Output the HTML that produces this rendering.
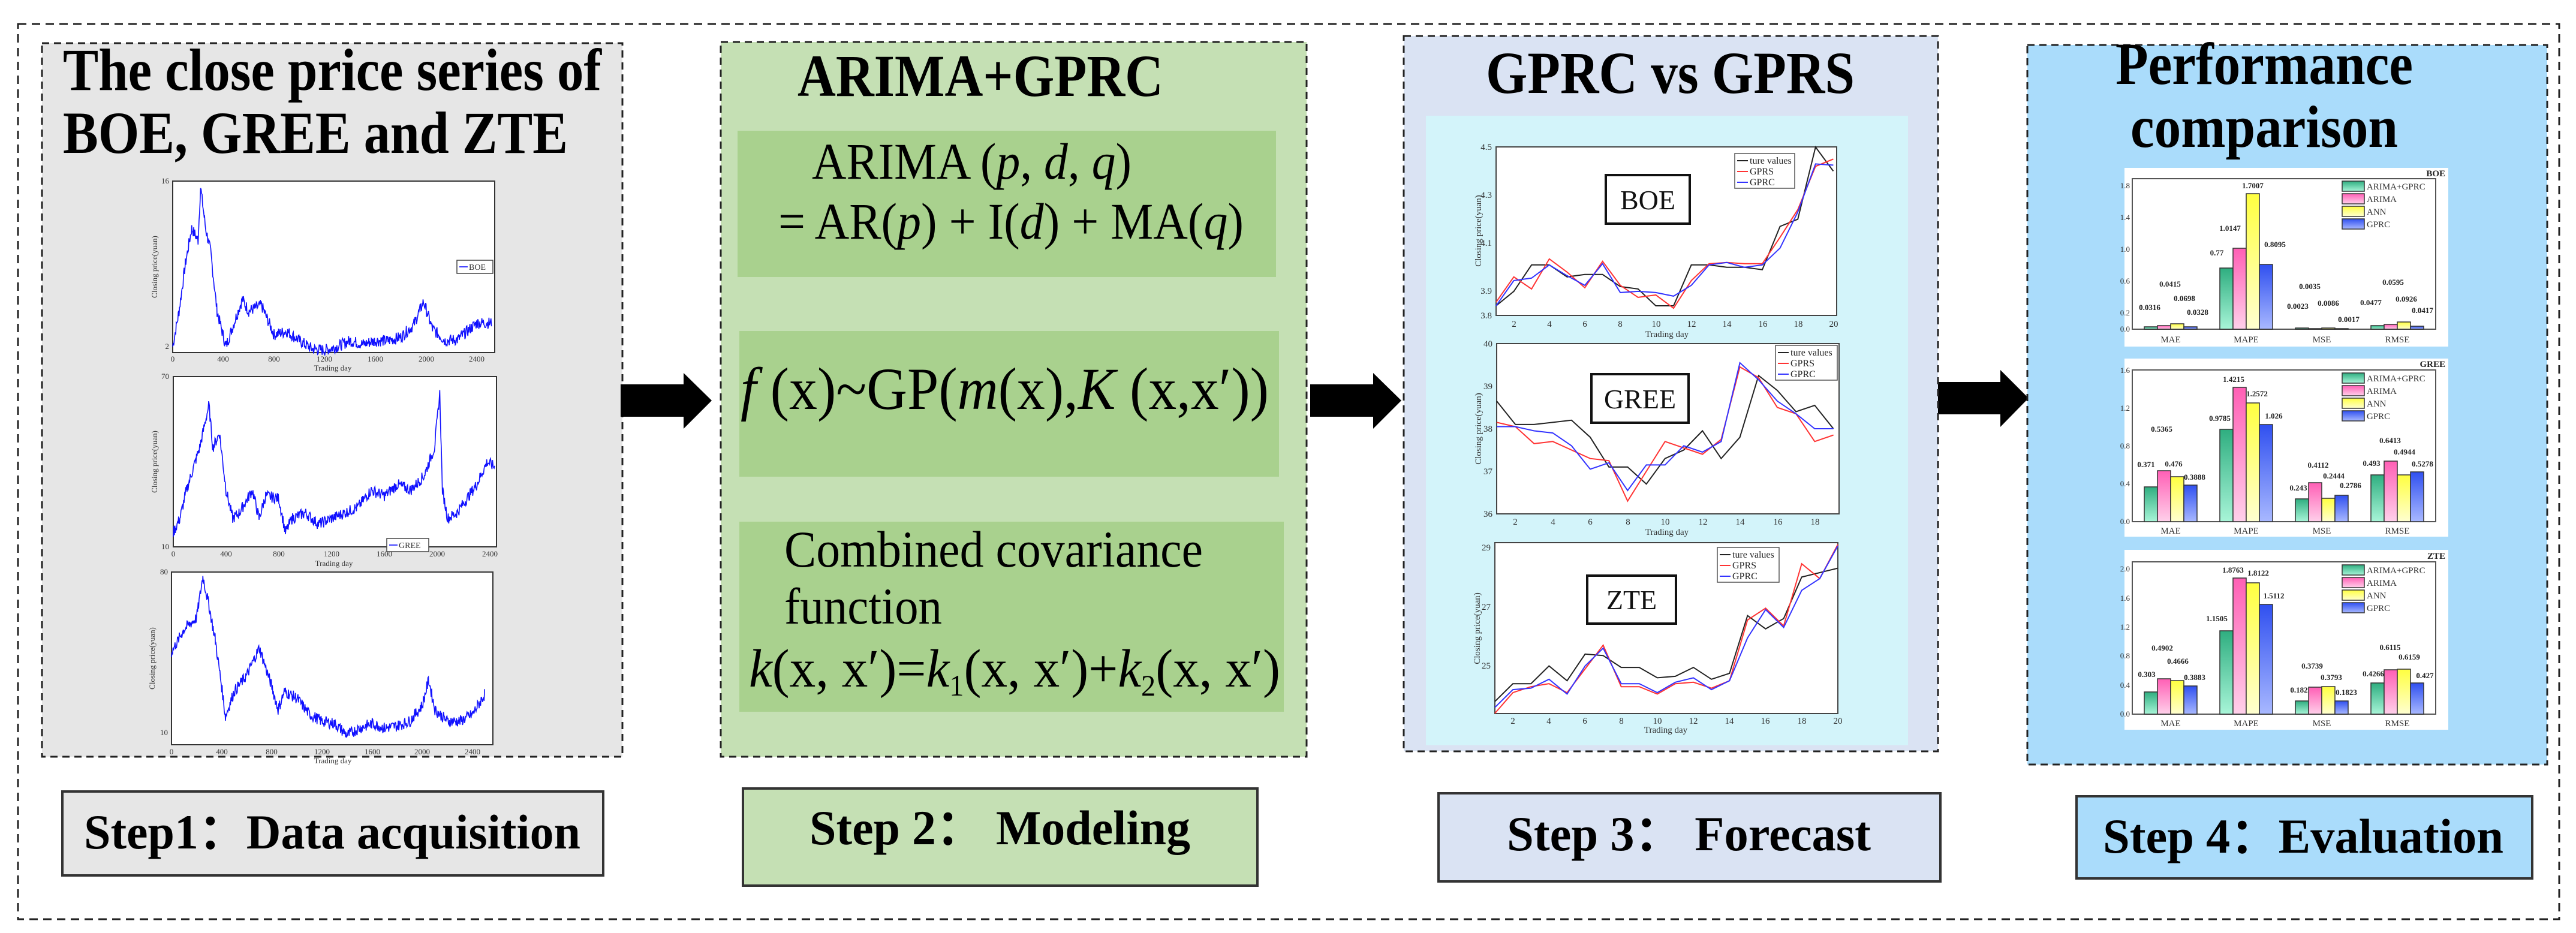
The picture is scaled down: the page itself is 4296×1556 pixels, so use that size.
<!DOCTYPE html>
<html><head><meta charset="utf-8"><style>
html,body{margin:0;padding:0;background:#fff;}
svg{display:block;}
.t{font-family:"Liberation Serif",serif;}
</style></head><body>
<svg id="s" xmlns="http://www.w3.org/2000/svg" width="4296" height="1556" viewBox="0 0 4296 1556" class="t">
<defs>
<linearGradient id="gG" x1="0" y1="0" x2="0" y2="1"><stop offset="0" stop-color="#2fae80"/><stop offset="1" stop-color="#a8f5d8"/></linearGradient>
<linearGradient id="gP" x1="0" y1="0" x2="0" y2="1"><stop offset="0" stop-color="#ff5fb5"/><stop offset="1" stop-color="#ffd0ea"/></linearGradient>
<linearGradient id="gY" x1="0" y1="0" x2="0" y2="1"><stop offset="0" stop-color="#ffff40"/><stop offset="1" stop-color="#ffffd0"/></linearGradient>
<linearGradient id="gB" x1="0" y1="0" x2="0" y2="1"><stop offset="0" stop-color="#3050f0"/><stop offset="1" stop-color="#a8b8ff"/></linearGradient>
</defs>
<!-- outer -->
<rect x="30" y="40" width="4238" height="1493" fill="#fff" stroke="#222" stroke-width="3" stroke-dasharray="14 9"/>

<!-- Panel 1 -->
<rect x="70" y="72" width="968" height="1190" fill="#e6e6e6" stroke="#222" stroke-width="3" stroke-dasharray="12 8"/>
<text x="105" y="150" font-size="100" font-weight="bold" textLength="898" lengthAdjust="spacingAndGlyphs">The close price series of</text>
<text x="105" y="255" font-size="100" font-weight="bold" textLength="842" lengthAdjust="spacingAndGlyphs">BOE, GREE and ZTE</text>
<g fill="#fff" stroke="#333" stroke-width="2">
<rect x="288" y="302" width="537" height="286"/>
<rect x="289" y="628" width="539" height="284"/>
<rect x="286" y="954" width="536" height="288"/>
</g>
<g font-size="13" fill="#333">
<text x="282" y="306" text-anchor="end">16</text><text x="282" y="582" text-anchor="end">2</text>
<text x="282" y="632" text-anchor="end">70</text><text x="282" y="916" text-anchor="end">10</text>
<text x="280" y="958" text-anchor="end">80</text><text x="280" y="1226" text-anchor="end">10</text>
<text x="288" y="603" text-anchor="middle">0</text><text x="372" y="603" text-anchor="middle">400</text><text x="457" y="603" text-anchor="middle">800</text><text x="541" y="603" text-anchor="middle">1200</text><text x="626" y="603" text-anchor="middle">1600</text><text x="711" y="603" text-anchor="middle">2000</text><text x="795" y="603" text-anchor="middle">2400</text>
<text x="555" y="618" text-anchor="middle">Trading day</text>
<text x="289" y="928" text-anchor="middle">0</text><text x="377" y="928" text-anchor="middle">400</text><text x="465" y="928" text-anchor="middle">800</text><text x="553" y="928" text-anchor="middle">1200</text><text x="641" y="928" text-anchor="middle">1600</text><text x="729" y="928" text-anchor="middle">2000</text><text x="817" y="928" text-anchor="middle">2400</text>
<text x="557" y="944" text-anchor="middle">Trading day</text>
<text x="286" y="1258" text-anchor="middle">0</text><text x="370" y="1258" text-anchor="middle">400</text><text x="453" y="1258" text-anchor="middle">800</text><text x="537" y="1258" text-anchor="middle">1200</text><text x="621" y="1258" text-anchor="middle">1600</text><text x="704" y="1258" text-anchor="middle">2000</text><text x="788" y="1258" text-anchor="middle">2400</text>
<text x="555" y="1273" text-anchor="middle">Trading day</text>
<text transform="translate(262,445) rotate(-90)" text-anchor="middle">Closing price(yuan)</text>
<text transform="translate(262,770) rotate(-90)" text-anchor="middle">Closing price(yuan)</text>
<text transform="translate(258,1098) rotate(-90)" text-anchor="middle">Closing price(yuan)</text>
</g>
<g font-size="14" fill="#333" stroke-width="1.5">
<rect x="762" y="434" width="60" height="22" fill="#fff" stroke="#444"/><line x1="766" y1="445" x2="780" y2="445" stroke="#00f"/><text x="782" y="450">BOE</text>
<rect x="645" y="908" width="70" height="22" fill="#fff" stroke="#444" transform="translate(0,-10)"/><line x1="649" y1="909" x2="663" y2="909" stroke="#00f"/><text x="665" y="914">GREE</text>
<rect x="680" y="1358" width="55" height="22" fill="#fff" stroke="#444" transform="translate(0,-22)"/><line x1="684" y1="1347" x2="698" y2="1347" stroke="#00f"/><text x="700" y="1352">ZTE</text>
</g>
<g id="p1lines" fill="none" stroke="#1010ff" stroke-width="1.6"></g>
<rect x="104" y="1320" width="902" height="140" fill="#e6e6e6" stroke="#333" stroke-width="4"/>
<text x="140" y="1415" font-size="82" font-weight="bold" textLength="828" lengthAdjust="spacingAndGlyphs">Step1：Data acquisition</text>

<!-- arrows -->
<g fill="#000">
<polygon points="1035,641 1140,641 1140,622 1187,668 1140,715 1140,695 1035,695"/>
<polygon points="2185,641 2290,641 2290,622 2337,668 2290,715 2290,695 2185,695"/>
<polygon points="3232,637 3336,637 3336,617 3383,664 3336,712 3336,691 3232,691"/>
</g>

<!-- Panel 2 -->
<rect x="1202" y="70" width="977" height="1192" fill="#c5e0b4" stroke="#222" stroke-width="3" stroke-dasharray="12 8"/>
<text x="1330" y="160" font-size="100" font-weight="bold" textLength="610" lengthAdjust="spacingAndGlyphs">ARIMA+GPRC</text>
<rect x="1230" y="218" width="898" height="244" fill="#a9d18e"/>
<rect x="1233" y="552" width="900" height="243" fill="#a9d18e"/>
<rect x="1233" y="870" width="908" height="317" fill="#a9d18e"/>
<text x="1354" y="298" font-size="86" textLength="533" lengthAdjust="spacingAndGlyphs">ARIMA (<tspan font-style="italic">p</tspan>, <tspan font-style="italic">d</tspan>, <tspan font-style="italic">q</tspan>)</text>
<text x="1298" y="398" font-size="86" textLength="776" lengthAdjust="spacingAndGlyphs">= AR(<tspan font-style="italic">p</tspan>) + I(<tspan font-style="italic">d</tspan>) + MA(<tspan font-style="italic">q</tspan>)</text>
<text x="1235" y="682" font-size="100" textLength="881" lengthAdjust="spacingAndGlyphs"><tspan font-style="italic">f</tspan> (x)~GP(<tspan font-style="italic">m</tspan>(x),<tspan font-style="italic">K</tspan> (x,x′))</text>
<text x="1308" y="945" font-size="86" textLength="698" lengthAdjust="spacingAndGlyphs">Combined covariance</text>
<text x="1308" y="1040" font-size="86" textLength="263" lengthAdjust="spacingAndGlyphs">function</text>
<text x="1249" y="1145" font-size="90" textLength="886" lengthAdjust="spacingAndGlyphs"><tspan font-style="italic">k</tspan>(x, x′)=<tspan font-style="italic">k</tspan><tspan font-size="50" dy="15">1</tspan><tspan dy="-15">(x, x′)+</tspan><tspan font-style="italic">k</tspan><tspan font-size="50" dy="15">2</tspan><tspan dy="-15">(x, x′)</tspan></text>
<rect x="1239" y="1315" width="858" height="162" fill="#c5e0b4" stroke="#333" stroke-width="4"/>
<text x="1350" y="1408" font-size="82" font-weight="bold" textLength="635" lengthAdjust="spacingAndGlyphs">Step 2：  Modeling</text>

<!-- Panel 3 -->
<rect x="2341" y="60" width="891" height="1193" fill="#dae3f3" stroke="#222" stroke-width="3" stroke-dasharray="12 8"/>
<text x="2478" y="155" font-size="100" font-weight="bold" textLength="615" lengthAdjust="spacingAndGlyphs">GPRC vs GPRS</text>
<rect x="2378" y="193" width="804" height="1050" fill="#d3f4fa"/>
<g fill="#fff" stroke="#444" stroke-width="2">
<rect x="2495" y="245" width="568" height="281"/>
<rect x="2496" y="573" width="571" height="284"/>
<rect x="2493" y="905" width="572" height="285"/>
</g>
<g font-size="15" fill="#333">
<text x="2488" y="250" text-anchor="end">4.5</text><text x="2488" y="330" text-anchor="end">4.3</text><text x="2488" y="410" text-anchor="end">4.1</text><text x="2488" y="490" text-anchor="end">3.9</text><text x="2488" y="531" text-anchor="end">3.8</text>
<text x="2489" y="578" text-anchor="end">40</text><text x="2489" y="649" text-anchor="end">39</text><text x="2489" y="720" text-anchor="end">38</text><text x="2489" y="791" text-anchor="end">37</text><text x="2489" y="862" text-anchor="end">36</text>
<text x="2486" y="918" text-anchor="end">29</text><text x="2486" y="1017" text-anchor="end">27</text><text x="2486" y="1115" text-anchor="end">25</text>
<text x="2525" y="545" text-anchor="middle">2</text><text x="2584" y="545" text-anchor="middle">4</text><text x="2643" y="545" text-anchor="middle">6</text><text x="2702" y="545" text-anchor="middle">8</text><text x="2762" y="545" text-anchor="middle">10</text><text x="2821" y="545" text-anchor="middle">12</text><text x="2880" y="545" text-anchor="middle">14</text><text x="2940" y="545" text-anchor="middle">16</text><text x="2999" y="545" text-anchor="middle">18</text><text x="3058" y="545" text-anchor="middle">20</text>
<text x="2780" y="562" text-anchor="middle">Trading day</text>
<text x="2527" y="875" text-anchor="middle">2</text><text x="2590" y="875" text-anchor="middle">4</text><text x="2652" y="875" text-anchor="middle">6</text><text x="2715" y="875" text-anchor="middle">8</text><text x="2777" y="875" text-anchor="middle">10</text><text x="2840" y="875" text-anchor="middle">12</text><text x="2902" y="875" text-anchor="middle">14</text><text x="2965" y="875" text-anchor="middle">16</text><text x="3027" y="875" text-anchor="middle">18</text>
<text x="2780" y="892" text-anchor="middle">Trading day</text>
<text x="2523" y="1207" text-anchor="middle">2</text><text x="2583" y="1207" text-anchor="middle">4</text><text x="2643" y="1207" text-anchor="middle">6</text><text x="2704" y="1207" text-anchor="middle">8</text><text x="2764" y="1207" text-anchor="middle">10</text><text x="2824" y="1207" text-anchor="middle">12</text><text x="2884" y="1207" text-anchor="middle">14</text><text x="2944" y="1207" text-anchor="middle">16</text><text x="3005" y="1207" text-anchor="middle">18</text><text x="3065" y="1207" text-anchor="middle">20</text>
<text x="2778" y="1222" text-anchor="middle">Trading day</text>
<text transform="translate(2470,385) rotate(-90)" text-anchor="middle">Closing price(yuan)</text>
<text transform="translate(2470,715) rotate(-90)" text-anchor="middle">Closing price(yuan)</text>
<text transform="translate(2468,1048) rotate(-90)" text-anchor="middle">Closing price(yuan)</text>
</g>
<g id="p3lines" fill="none" stroke-width="2"></g>
<g font-size="16" fill="#222">
<rect x="2893" y="256" width="100" height="58" fill="#fff" stroke="#555" stroke-width="1.5"/>
<line x1="2897" y1="268" x2="2915" y2="268" stroke="#222" stroke-width="2"/><text x="2918" y="273">ture values</text>
<line x1="2897" y1="286" x2="2915" y2="286" stroke="#f33" stroke-width="2"/><text x="2918" y="291">GPRS</text>
<line x1="2897" y1="304" x2="2915" y2="304" stroke="#33f" stroke-width="2"/><text x="2918" y="309">GPRC</text>
<rect x="2961" y="576" width="103" height="58" fill="#fff" stroke="#555" stroke-width="1.5"/>
<line x1="2965" y1="588" x2="2983" y2="588" stroke="#222" stroke-width="2"/><text x="2986" y="593">ture values</text>
<line x1="2965" y1="606" x2="2983" y2="606" stroke="#f33" stroke-width="2"/><text x="2986" y="611">GPRS</text>
<line x1="2965" y1="624" x2="2983" y2="624" stroke="#33f" stroke-width="2"/><text x="2986" y="629">GPRC</text>
<rect x="2864" y="913" width="103" height="58" fill="#fff" stroke="#555" stroke-width="1.5"/>
<line x1="2868" y1="925" x2="2886" y2="925" stroke="#222" stroke-width="2"/><text x="2889" y="930">ture values</text>
<line x1="2868" y1="943" x2="2886" y2="943" stroke="#f33" stroke-width="2"/><text x="2889" y="948">GPRS</text>
<line x1="2868" y1="961" x2="2886" y2="961" stroke="#33f" stroke-width="2"/><text x="2889" y="966">GPRC</text>
</g>
<g fill="#fff" stroke="#111" stroke-width="4">
<rect x="2678" y="292" width="140" height="81"/>
<rect x="2654" y="624" width="162" height="81"/>
<rect x="2647" y="960" width="148" height="80"/>
</g>
<g font-size="46" text-anchor="middle" fill="#111">
<text x="2748" y="349">BOE</text><text x="2735" y="681">GREE</text><text x="2721" y="1016">ZTE</text>
</g>
<rect x="2399" y="1323" width="837" height="147" fill="#dae3f3" stroke="#333" stroke-width="4"/>
<text x="2513" y="1418" font-size="82" font-weight="bold" textLength="607" lengthAdjust="spacingAndGlyphs">Step 3：  Forecast</text>

<!-- Panel 4 -->
<rect x="3381" y="75" width="867" height="1200" fill="#aadcfb" stroke="#222" stroke-width="3" stroke-dasharray="12 8"/>
<text x="3528" y="140" font-size="100" font-weight="bold" textLength="496" lengthAdjust="spacingAndGlyphs">Performance</text>
<text x="3553" y="245" font-size="100" font-weight="bold" textLength="446" lengthAdjust="spacingAndGlyphs">comparison</text>
<g fill="#fff"><rect x="3543" y="280" width="540" height="298"/><rect x="3543" y="598" width="540" height="297"/><rect x="3543" y="917" width="540" height="300"/></g>
<g fill="none" stroke="#555" stroke-width="2"><rect x="3556" y="298" width="506" height="251"/><rect x="3556" y="617" width="506" height="253"/><rect x="3556" y="937" width="506" height="254"/></g>
<g font-size="15" font-weight="bold" fill="#222" text-anchor="end">
<text x="4078" y="294">BOE</text><text x="4078" y="612">GREE</text><text x="4078" y="932">ZTE</text>
</g>
<g font-size="15" fill="#333" text-anchor="middle">
<text x="3620" y="571">MAE</text><text x="3746" y="571">MAPE</text><text x="3872" y="571">MSE</text><text x="3998" y="571">RMSE</text>
<text x="3620" y="890">MAE</text><text x="3746" y="890">MAPE</text><text x="3872" y="890">MSE</text><text x="3998" y="890">RMSE</text>
<text x="3620" y="1211">MAE</text><text x="3746" y="1211">MAPE</text><text x="3872" y="1211">MSE</text><text x="3998" y="1211">RMSE</text>
</g>
<g font-size="13" fill="#333" text-anchor="end">
<text x="3552" y="314">1.8</text><text x="3552" y="367">1.4</text><text x="3552" y="420">1.0</text><text x="3552" y="473">0.6</text><text x="3552" y="526">0.2</text><text x="3552" y="553">0.0</text>
<text x="3552" y="622">1.6</text><text x="3552" y="685">1.2</text><text x="3552" y="748">0.8</text><text x="3552" y="811">0.4</text><text x="3552" y="874">0.0</text>
<text x="3552" y="953">2.0</text><text x="3552" y="1002">1.6</text><text x="3552" y="1050">1.2</text><text x="3552" y="1098">0.8</text><text x="3552" y="1147">0.4</text><text x="3552" y="1195">0.0</text>
</g>
<!-- bars BOE base 549 -->
<g stroke="#333" stroke-width="1.5">
<rect x="3576" y="545" width="22" height="4" fill="url(#gG)"/><rect x="3598" y="543" width="22" height="6" fill="url(#gP)"/><rect x="3620" y="540" width="22" height="9" fill="url(#gY)"/><rect x="3642" y="545" width="22" height="4" fill="url(#gB)"/>
<rect x="3702" y="447" width="22" height="102" fill="url(#gG)"/><rect x="3724" y="414" width="22" height="135" fill="url(#gP)"/><rect x="3746" y="323" width="22" height="226" fill="url(#gY)"/><rect x="3768" y="441" width="22" height="108" fill="url(#gB)"/>
<rect x="3828" y="547" width="22" height="2" fill="url(#gG)"/><rect x="3850" y="548" width="22" height="1" fill="url(#gP)"/><rect x="3872" y="547" width="22" height="2" fill="url(#gY)"/><rect x="3894" y="548" width="22" height="1" fill="url(#gB)"/>
<rect x="3954" y="543" width="22" height="6" fill="url(#gG)"/><rect x="3976" y="541" width="22" height="8" fill="url(#gP)"/><rect x="3998" y="537" width="22" height="12" fill="url(#gY)"/><rect x="4020" y="544" width="22" height="5" fill="url(#gB)"/>
<!-- GREE base 870 -->
<rect x="3576" y="812" width="22" height="58" fill="url(#gG)"/><rect x="3598" y="785" width="22" height="85" fill="url(#gP)"/><rect x="3620" y="795" width="22" height="75" fill="url(#gY)"/><rect x="3642" y="809" width="22" height="61" fill="url(#gB)"/>
<rect x="3702" y="716" width="22" height="154" fill="url(#gG)"/><rect x="3724" y="646" width="22" height="224" fill="url(#gP)"/><rect x="3746" y="672" width="22" height="198" fill="url(#gY)"/><rect x="3768" y="708" width="22" height="162" fill="url(#gB)"/>
<rect x="3828" y="832" width="22" height="38" fill="url(#gG)"/><rect x="3850" y="805" width="22" height="65" fill="url(#gP)"/><rect x="3872" y="831" width="22" height="39" fill="url(#gY)"/><rect x="3894" y="826" width="22" height="44" fill="url(#gB)"/>
<rect x="3954" y="792" width="22" height="78" fill="url(#gG)"/><rect x="3976" y="769" width="22" height="101" fill="url(#gP)"/><rect x="3998" y="792" width="22" height="78" fill="url(#gY)"/><rect x="4020" y="787" width="22" height="83" fill="url(#gB)"/>
<!-- ZTE base 1191 -->
<rect x="3576" y="1154" width="22" height="37" fill="url(#gG)"/><rect x="3598" y="1132" width="22" height="59" fill="url(#gP)"/><rect x="3620" y="1135" width="22" height="56" fill="url(#gY)"/><rect x="3642" y="1144" width="22" height="47" fill="url(#gB)"/>
<rect x="3702" y="1052" width="22" height="139" fill="url(#gG)"/><rect x="3724" y="964" width="22" height="227" fill="url(#gP)"/><rect x="3746" y="972" width="22" height="219" fill="url(#gY)"/><rect x="3768" y="1008" width="22" height="183" fill="url(#gB)"/>
<rect x="3828" y="1169" width="22" height="22" fill="url(#gG)"/><rect x="3850" y="1146" width="22" height="45" fill="url(#gP)"/><rect x="3872" y="1145" width="22" height="46" fill="url(#gY)"/><rect x="3894" y="1169" width="22" height="22" fill="url(#gB)"/>
<rect x="3954" y="1139" width="22" height="52" fill="url(#gG)"/><rect x="3976" y="1117" width="22" height="74" fill="url(#gP)"/><rect x="3998" y="1116" width="22" height="75" fill="url(#gY)"/><rect x="4020" y="1139" width="22" height="52" fill="url(#gB)"/>
</g>
<!-- legends -->
<g font-size="15" fill="#333" stroke-width="1.5">
<rect x="3906" y="302" width="37" height="17" fill="url(#gG)" stroke="#333"/><text x="3947" y="316">ARIMA+GPRC</text>
<rect x="3906" y="323" width="37" height="17" fill="url(#gP)" stroke="#333"/><text x="3947" y="337">ARIMA</text>
<rect x="3906" y="344" width="37" height="17" fill="url(#gY)" stroke="#333"/><text x="3947" y="358">ANN</text>
<rect x="3906" y="365" width="37" height="17" fill="url(#gB)" stroke="#333"/><text x="3947" y="379">GPRC</text>
<rect x="3906" y="622" width="37" height="17" fill="url(#gG)" stroke="#333"/><text x="3947" y="636">ARIMA+GPRC</text>
<rect x="3906" y="643" width="37" height="17" fill="url(#gP)" stroke="#333"/><text x="3947" y="657">ARIMA</text>
<rect x="3906" y="664" width="37" height="17" fill="url(#gY)" stroke="#333"/><text x="3947" y="678">ANN</text>
<rect x="3906" y="685" width="37" height="17" fill="url(#gB)" stroke="#333"/><text x="3947" y="699">GPRC</text>
<rect x="3906" y="942" width="37" height="17" fill="url(#gG)" stroke="#333"/><text x="3947" y="956">ARIMA+GPRC</text>
<rect x="3906" y="963" width="37" height="17" fill="url(#gP)" stroke="#333"/><text x="3947" y="977">ARIMA</text>
<rect x="3906" y="984" width="37" height="17" fill="url(#gY)" stroke="#333"/><text x="3947" y="998">ANN</text>
<rect x="3906" y="1005" width="37" height="17" fill="url(#gB)" stroke="#333"/><text x="3947" y="1019">GPRC</text>
</g>
<!-- value labels -->
<g font-size="13" font-weight="bold" fill="#222" text-anchor="middle">
<text x="3585" y="517">0.0316</text><text x="3619" y="478">0.0415</text><text x="3643" y="502">0.0698</text><text x="3665" y="525">0.0328</text>
<text x="3697" y="426">0.77</text><text x="3719" y="385">1.0147</text><text x="3757" y="314">1.7007</text><text x="3794" y="412">0.8095</text>
<text x="3832" y="515">0.0023</text><text x="3852" y="482">0.0035</text><text x="3883" y="510">0.0086</text><text x="3917" y="537">0.0017</text>
<text x="3954" y="509">0.0477</text><text x="3991" y="475">0.0595</text><text x="4013" y="503">0.0926</text><text x="4040" y="522">0.0417</text>
<text x="3579" y="779">0.371</text><text x="3605" y="720">0.5365</text><text x="3625" y="778">0.476</text><text x="3660" y="800">0.3888</text>
<text x="3702" y="702">0.9785</text><text x="3725" y="637">1.4215</text><text x="3764" y="661">1.2572</text><text x="3792" y="698">1.026</text>
<text x="3833" y="818">0.243</text><text x="3866" y="780">0.4112</text><text x="3892" y="798">0.2444</text><text x="3920" y="814">0.2786</text>
<text x="3955" y="777">0.493</text><text x="3986" y="739">0.6413</text><text x="4010" y="758">0.4944</text><text x="4040" y="778">0.5278</text>
<text x="3580" y="1129">0.303</text><text x="3606" y="1085">0.4902</text><text x="3632" y="1107">0.4666</text><text x="3660" y="1134">0.3883</text>
<text x="3697" y="1036">1.1505</text><text x="3724" y="955">1.8763</text><text x="3766" y="960">1.8122</text><text x="3792" y="998">1.5112</text>
<text x="3834" y="1155">0.182</text><text x="3856" y="1115">0.3739</text><text x="3888" y="1134">0.3793</text><text x="3913" y="1159">0.1823</text>
<text x="3958" y="1128">0.4266</text><text x="3986" y="1084">0.6115</text><text x="4018" y="1100">0.6159</text><text x="4044" y="1131">0.427</text>
</g>
<rect x="3463" y="1328" width="760" height="137" fill="#aadcfb" stroke="#333" stroke-width="4"/>
<text x="3507" y="1422" font-size="82" font-weight="bold" textLength="668" lengthAdjust="spacingAndGlyphs">Step 4：Evaluation</text>
</svg>
<script>
(function(){
var NS="http://www.w3.org/2000/svg";
function pl(g,pts,col,w){var p=document.createElementNS(NS,"polyline");p.setAttribute("points",pts.map(function(a){return a[0].toFixed(1)+","+a[1].toFixed(1)}).join(" "));p.setAttribute("stroke",col);if(w)p.setAttribute("stroke-width",w);g.appendChild(p);}
var seed=7;function rnd(){seed=(seed*9301+49297)%233280;return seed/233280;}
function walk(keys,x0,sx,y0,v0,sy,noise){var pts=[];for(var i=0;i<keys.length-1;i++){var a=keys[i],b=keys[i+1];for(var x=a[0];x<b[0];x+=4){var t=(x-a[0])/(b[0]-a[0]);var v=a[1]+(b[1]-a[1])*t+(rnd()-0.5)*noise;pts.push([x0+x*sx,y0-(v-v0)*sy]);}}return pts;}
var g1=document.getElementById("p1lines");
pl(g1,walk([[0,2],[50,5],[100,9],[150,12],[200,11],[220,15.5],[260,12],[300,10],[350,5],[420,2],[500,4.5],[550,6],[600,5],[700,5.5],[800,3],[900,3.3],[1000,2.5],[1100,1.8],[1200,1.7],[1300,2],[1400,2.5],[1500,2.2],[1600,2.5],[1700,2.5],[1800,2.8],[1900,3.8],[1980,5.8],[2050,3.5],[2150,2.5],[2250,2.6],[2400,4],[2520,4]],288,0.2113,578,2,19.7,1.0),"#1010ff");
pl(g1,walk([[0,15],[50,20],[100,30],[200,45],[270,60],[300,45],[350,50],[400,30],[450,20],[500,22],[600,30],[650,20],[700,28],[800,27],[850,15],[900,20],[1000,22],[1100,18],[1200,20],[1300,22],[1400,24],[1500,30],[1600,28],[1700,32],[1800,30],[1900,35],[1980,45],[2020,64],[2040,30],[2080,20],[2150,22],[2300,32],[2380,40],[2440,38]],289,0.22,912,10,4.73,4),"#1010ff");
pl(g1,walk([[0,45],[50,50],[100,55],[200,60],[250,78],[300,65],[350,50],[400,30],[430,17],[500,28],[600,35],[700,47],[800,30],[850,20],[900,28],[1000,25],[1100,18],[1200,15],[1300,14],[1400,9],[1500,12],[1600,14],[1700,12],[1800,13],[1900,15],[2000,22],[2050,33],[2100,20],[2200,15],[2300,15],[2400,18],[2500,27]],286,0.2092,1222,10,3.83,5),"#1010ff");
var g3=document.getElementById("p3lines");
function ser(vals,x0,dx,y0,v0,sy){return vals.map(function(v,i){return [x0+i*dx,y0-(v-v0)*sy];});}
function chart(x0,dx,y0,v0,sy,t,r,b){pl(g3,ser(t,x0,dx,y0,v0,sy),"#222");pl(g3,ser(r,x0,dx,y0,v0,sy),"#f33");pl(g3,ser(b,x0,dx,y0,v0,sy),"#33f");}
chart(2495,29.6,526,3.8,401,[3.84,3.90,4.01,4.01,3.96,3.97,3.97,3.92,3.91,3.84,3.84,4.01,4.01,4.00,4.00,3.99,4.17,4.20,4.50,4.40],[3.855,3.96,3.91,4.035,3.98,3.915,4.025,3.925,3.875,3.885,3.83,3.945,4.015,4.02,4.015,4.015,4.125,4.24,4.42,4.45],[3.84,3.945,3.955,4.01,3.965,3.925,4.015,3.895,3.90,3.895,3.88,3.925,4.01,4.02,4.00,4.01,4.08,4.23,4.43,4.425]);
chart(2496,31.2,857,36,71,[38.65,38.1,38.1,38.15,38.2,37.8,37.1,37.1,36.7,37.3,37.5,37.95,37.3,37.8,39.25,38.9,38.4,38.55,38.0],[38.15,38.05,37.65,37.7,37.5,37.3,37.25,36.3,37.0,37.7,37.55,37.4,37.75,39.45,39.2,38.5,38.35,37.7,37.85],[38.05,38.05,37.95,37.9,37.6,37.05,37.2,36.55,37.15,37.15,37.6,37.45,37.7,39.55,39.15,38.65,38.35,38.0,38.0]);
chart(2493,30.1,1160,24,49.4,[23.8,24.4,24.4,25.0,24.5,25.4,25.35,24.95,24.95,24.6,24.65,24.95,24.55,24.75,26.7,26.25,26.6,28.0,28.15,28.3],[23.4,24.1,24.3,24.4,24.1,24.9,25.7,24.3,24.3,24.05,24.4,24.45,24.25,24.5,26.55,26.95,26.35,28.45,27.95,29.1],[23.6,24.2,24.25,24.55,24.05,25.0,25.6,24.4,24.4,24.1,24.45,24.6,24.2,24.5,25.95,26.9,26.3,27.55,27.95,29.05]);
})();
</script>
</body></html>
